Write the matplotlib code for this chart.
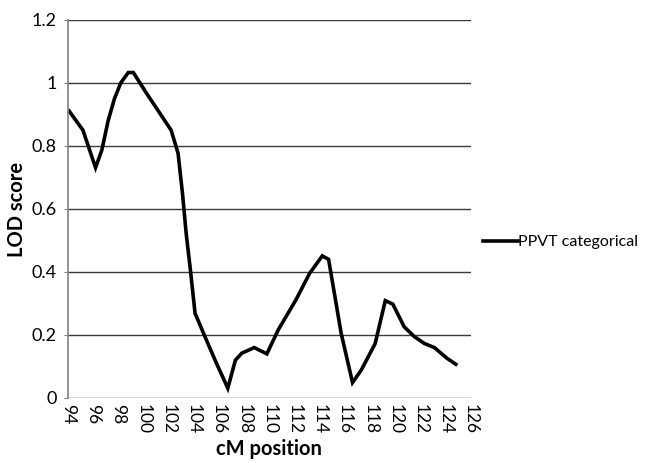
import matplotlib
matplotlib.use('Agg')
import matplotlib.pyplot as plt

plt.rcParams['font.family'] = ['Lato', 'DejaVu Sans']

# cM positions and LOD scores
cm_pos = [94.1, 95.2, 96.2, 96.7, 97.2, 97.7, 98.2, 98.8, 99.2, 100.2, 101.2, 102.2,
          102.75, 103.1, 103.4, 103.7, 104.1, 105.0, 105.8, 106.7, 107.3, 107.8,
          108.8, 109.8, 110.7, 112.1, 113.2, 114.2, 114.7, 115.7, 116.6, 117.3,
          118.4, 119.2, 119.8, 120.7, 121.5, 122.3, 123.1, 124.1, 124.8]
lod = [0.911, 0.85, 0.731, 0.787, 0.88, 0.95, 1.0, 1.033, 1.033, 0.97, 0.91, 0.85,
       0.777, 0.65, 0.52, 0.417, 0.269, 0.184, 0.11, 0.031, 0.12, 0.142,
       0.16, 0.14, 0.216, 0.311, 0.396, 0.451, 0.44, 0.205, 0.049, 0.089,
       0.173, 0.309, 0.298, 0.226, 0.195, 0.173, 0.16, 0.126, 0.107]

x_ticks = list(range(94, 127, 2))
y_ticks = [0, 0.2, 0.4, 0.6, 0.8, 1, 1.2]
y_labels = ['0', '0.2', '0.4', '0.6', '0.8', '1', '1.2']

fig = plt.figure(figsize=(6.46, 4.63), dpi=100)
ax = fig.add_axes([0.105, 0.1404, 0.624, 0.8166])

ax.plot(cm_pos, lod, color='black', linewidth=2.6, label='PPVT categorical',
        solid_joinstyle='miter')

ax.set_xlim(94, 126)
ax.set_ylim(0, 1.2)
ax.set_xticks(x_ticks)
ax.set_xticklabels([str(t) for t in x_ticks], rotation=270, fontsize=12.5)
ax.set_yticks(y_ticks)
ax.set_yticklabels(y_labels, fontsize=13)
ax.tick_params(axis='x', length=0, pad=4)
ax.tick_params(axis='y', length=3, color='#808080', pad=5)

ax.grid(axis='y', color='#3a3a3a', linewidth=1.0)
ax.set_axisbelow(True)
for side in ['top', 'right', 'bottom']:
    ax.spines[side].set_visible(False)
ax.spines['left'].set_color('#808080')
ax.spines['left'].set_linewidth(1.2)

ax.set_xlabel('cM position', fontsize=14.5, fontweight='bold', labelpad=4)
ax.set_ylabel('LOD score', fontsize=14.5, fontweight='bold', labelpad=3)

fig.legend(loc='center left', bbox_to_anchor=(0.747, 0.477), frameon=False,
           fontsize=11.5, handlelength=2.2, handletextpad=0.05,
           borderaxespad=0, borderpad=0)

plt.savefig('out.png', dpi=100)
